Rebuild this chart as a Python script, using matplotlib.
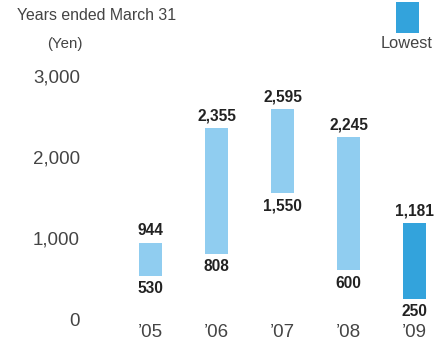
import matplotlib.pyplot as plt
from matplotlib.patches import Rectangle

plt.rcParams['font.family'] = ['Liberation Sans', 'DejaVu Sans']

# share price range per fiscal year (yen)
years = ["\u201905", "\u201906", "\u201907", "\u201908", "\u201909"]
highs = [944, 2355, 2595, 2245, 1181]
lows = [530, 808, 1550, 600, 250]
yticks = [0, 1000, 2000, 3000]

light = "#90CDF0"
dark = "#33A3DC"
colors = [light, light, light, light, dark]

W, H = 448, 342
fig = plt.figure(figsize=(W / 100, H / 100), dpi=100)

# axes in pixel terms: bottom at 0 yen, top at 3,000 yen
left_px, right_px = 88, 448
bottom_px, top_px = 319, 76
ax = fig.add_axes([left_px / W, 1 - bottom_px / H,
                   (right_px - left_px) / W, (bottom_px - top_px) / H])

x = list(range(len(years)))
heights = [h - l for h, l in zip(highs, lows)]
ax.bar(x, heights, bottom=lows, width=0.35, color=colors, linewidth=0)

for xi, hi, lo in zip(x, highs, lows):
    ax.annotate(f"{hi:,}", (xi, hi), xytext=(0, 8.8), textcoords="offset points",
                ha="center", va="center", fontsize=11.2, fontweight="bold",
                color="#222222", annotation_clip=False)
    ax.annotate(f"{lo:,}", (xi, lo), xytext=(0, -9.2), textcoords="offset points",
                ha="center", va="center", fontsize=11.2, fontweight="bold",
                color="#222222", annotation_clip=False)

ax.set_xlim((left_px - 150.5) / 66, (right_px - 150.5) / 66)
ax.set_ylim(0, 3000)
ax.set_xticks(x)
ax.set_xticklabels(years)
ax.set_yticks(yticks)
ax.set_yticklabels([f"{v:,}" for v in yticks])
ax.tick_params(length=0, labelsize=13.5, labelcolor="#444444")
ax.tick_params(axis="y", pad=5.8)
ax.tick_params(axis="x", pad=3.5)
for s in ax.spines.values():
    s.set_visible(False)

fig.text(17 / W, 1 - 15 / H, "Years ended March 31", ha="left", va="center",
         fontsize=11.4, color="#444444")
fig.text(47 / W, 1 - 44 / H, "(Yen)", ha="left", va="center",
         fontsize=10.8, color="#444444")

# legend key
fig.patches.append(Rectangle((396 / W, 1 - 33 / H), 23 / W, 31 / H,
                             transform=fig.transFigure, color=dark, linewidth=0))
fig.text(407 / W, 1 - 43 / H, "Lowest", ha="center", va="center",
         fontsize=11.8, color="#444444")

fig.savefig("out.png", dpi=100)
